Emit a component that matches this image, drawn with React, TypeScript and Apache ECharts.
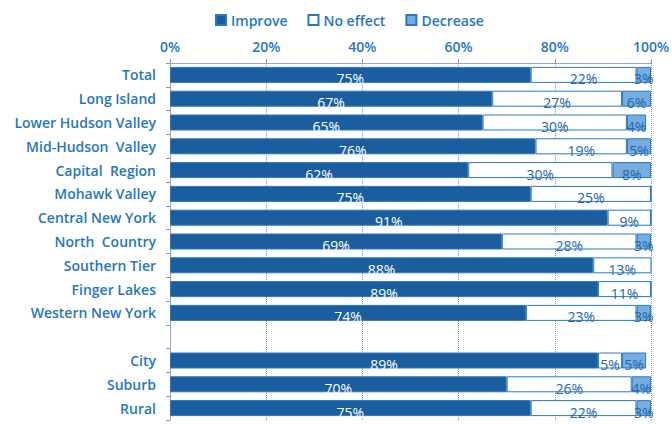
import React, { useEffect, useRef } from "react";
import * as echarts from "echarts";

const categories = [
  "Total",
  "Long Island",
  "Lower Hudson Valley",
  "Mid-Hudson  Valley",
  "Capital  Region",
  "Mohawk Valley",
  "Central New York",
  "North  Country",
  "Southern Tier",
  "Finger Lakes",
  "Western New York",
  "",
  "City",
  "Suburb",
  "Rural",
];
const improve = [75, 67, 65, 76, 62, 75, 91, 69, 88, 89, 74, null, 89, 70, 75];
const noEffect = [22, 27, 30, 19, 30, 25, 9, 28, 13, 11, 23, null, 5, 26, 22];
const decrease = [3, 6, 4, 5, 8, 0, 0, 3, 0, 0, 3, null, 5, 4, 3];
const tickLabels = ["0%", "20%", "40%", "60%", "80%", "100%"];

const FONT = "Open Sans";
const BLUE_TEXT = "#2676be";
const BORDER = "#2a78c2";

export default function App() {
  const ref = useRef<HTMLDivElement>(null);
  useEffect(() => {
    if (!ref.current) return;
    const chart = echarts.init(ref.current, undefined, { renderer: "svg" });
    const label = (color: string) => ({
      show: true,
      position: "inside" as const,
      offset: [0, 4],
      color,
      fontFamily: FONT,
      fontSize: 14,
      formatter: (p: any) => (p.value ? p.value + "%" : ""),
    });
    chart.setOption({
      animation: false,
      backgroundColor: "#ffffff",
      legend: {
        top: 8,
        left: 210,
        itemWidth: 10,
        itemHeight: 10,
        itemGap: 20,
        icon: "rect",
        textStyle: { color: BLUE_TEXT, fontFamily: FONT, fontSize: 14, fontWeight: 600 },
        data: ["Improve", "No effect", "Decrease"],
      },
      grid: { left: 170, top: 63, width: 483, height: 357 },
      xAxis: {
        type: "value",
        position: "top",
        min: 0,
        max: 100,
        interval: 20,
        axisLine: { show: true, lineStyle: { color: "#8a8fb5", type: "dotted" } },
        axisTick: { show: true, inside: false, length: 4, lineStyle: { color: "#8a8fb5" } },
        splitLine: { show: true, lineStyle: { color: "#8a8fb5", type: "dotted", width: 1 } },
        axisLabel: {
          color: BLUE_TEXT,
          fontFamily: FONT,
          fontSize: 14,
          fontWeight: 600,
          margin: 10,
          formatter: (v: number) => tickLabels[Math.round(v / 20)],
        },
      },
      yAxis: {
        type: "category",
        inverse: true,
        data: categories,
        axisLine: { show: true, lineStyle: { color: "#8a8fb5", type: "dotted" } },
        axisTick: { show: true, length: 4, lineStyle: { color: "#8a8fb5" } },
        axisLabel: {
          color: BLUE_TEXT,
          fontFamily: FONT,
          fontSize: 14,
          fontWeight: 600,
          margin: 14,
        },
      },
      series: [
        {
          name: "Improve",
          type: "bar",
          stack: "s",
          barWidth: 16,
          data: improve,
          itemStyle: { color: "#1a5e9f", borderColor: BORDER, borderWidth: 1 },
          label: label("#ffffff"),
        },
        {
          name: "No effect",
          type: "bar",
          stack: "s",
          data: noEffect,
          itemStyle: { color: "#ffffff", borderColor: BORDER, borderWidth: 1 },
          label: label("#2266ab"),
        },
        {
          name: "Decrease",
          type: "bar",
          stack: "s",
          data: decrease,
          itemStyle: { color: "#75ade0", borderColor: BORDER, borderWidth: 1 },
          label: label("#2266ab"),
        },
      ],
    });
    return () => chart.dispose();
  }, []);
  return <div ref={ref} style={{ width: 672, height: 424, position: "absolute", left: 0, top: 0 }} />;
}
